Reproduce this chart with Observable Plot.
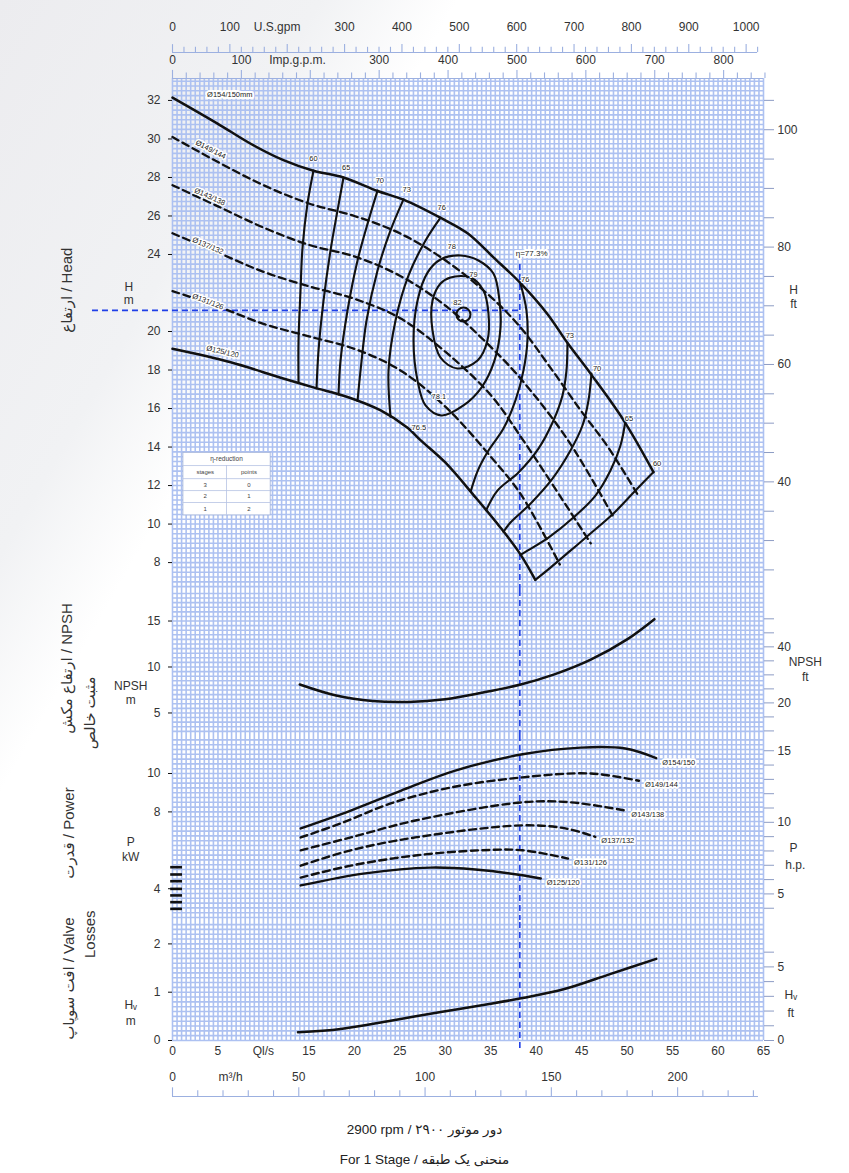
<!DOCTYPE html>
<html>
<head>
<meta charset="utf-8">
<script src="https://cdn.jsdelivr.net/npm/d3@7"></script>
<script src="https://cdn.jsdelivr.net/npm/@observablehq/plot@0.6"></script>
<style>
  html, body { margin: 0; padding: 0; }
  body { width: 849px; height: 1173px; overflow: hidden; position: relative;
         background: linear-gradient(120deg, #ececef 0%, #f1f2f4 21%, #ffffff 30%);
         font-family: "Liberation Sans", Arial, "DejaVu Sans", sans-serif; }
  #chart svg { display: block; overflow: visible; }
  #cap { position: absolute; left: 0; top: 1115px; width: 849px; text-align: center; color: #222; }
  #cap div { height: 30px; line-height: 30px; font-size: 13.5px; }
</style>
</head>
<body>
<div id="chart"></div>
<div id="cap">
  <div dir="rtl">دور موتور ۲۹۰۰ / <bdi dir="ltr">2900 rpm</bdi></div>
  <div dir="rtl">منحنی یک طبقه / <bdi dir="ltr">For 1 Stage</bdi></div>
</div>
<script>
// ---------------- DATA (Q in l/s) ----------------
// Head curves: [Q l/s, H m]
const headD154 = [[0,32.15],[4.95,30.8],[8.6,29.75],[12.2,28.9],[15.5,28.35],[18.8,28.0],[22.55,27.3],[25.4,26.85],[29.5,25.9],[32.45,25.1],[35.3,23.85],[38.3,22.5],[41.25,20.9],[43.45,19.4],[46.0,17.8],[49.6,15.4],[52.9,12.7]];
const headD149 = [[0,30.1],[5,28.8],[10,27.6],[15,26.65],[20,26.0],[25,25.1],[30,23.7],[35,21.8],[38.3,20.2],[41.6,18.1],[44.9,15.9],[47.9,14.0],[51.2,11.5]];
const headD143 = [[0,27.6],[5,26.5],[10,25.4],[15,24.5],[20,23.9],[25,22.9],[30,21.35],[35,19.2],[38.3,17.55],[43.5,14.35],[48.4,10.45]];
const headD137 = [[0,25.1],[5,24.1],[10,23.1],[15,22.35],[20,21.7],[25,20.7],[30,18.95],[35,16.7],[38.5,14.4],[42.7,11.4],[46,9.0]];
const headD131 = [[0,22.1],[5,21.3],[10,20.4],[15,19.75],[20,19.1],[25,18.0],[30,16.1],[35,13.5],[38.3,11.55],[42.6,7.9]];
const headD125 = [[0,19.1],[6.4,18.4],[11.9,17.6],[15.5,17.1],[19.25,16.6],[22.9,15.9],[25.85,15.0],[27.3,14.35],[30,13.2],[33.3,11.4],[36.1,9.8],[38.3,8.4],[39.9,7.1]];

// Iso-efficiency lines: [Q l/s, H m]
const eff60L = [[15.51,28.36],[14.85,26.65],[14.30,24.36],[14.08,22.13],[13.86,19.53],[13.86,17.35]];
const eff65L = [[18.81,28.0],[18.15,26.29],[17.38,24.21],[16.61,21.61],[16.06,19.01],[15.84,17.05]];
const eff70L = [[22.55,27.32],[21.56,25.77],[20.35,23.69],[19.25,21.09],[18.48,18.49],[18.26,16.73]];
const eff73L = [[25.41,26.86],[23.98,25.25],[22.55,23.17],[21.34,20.57],[20.68,17.97],[20.35,16.39]];
const eff76L = [[29.48,25.92],[27.83,24.73],[25.96,22.91],[24.53,20.57],[23.76,17.97],[23.98,15.57]];
const eff78  = [[31.68,23.95],[33.65,23.69],[35.30,23.01],[35.96,21.61],[36.07,20.16],[35.41,18.49],[33.98,17.09],[32.0,16.16],[29.59,15.64],[27.83,16.16],[26.95,17.45],[26.51,19.53],[26.95,21.61],[28.05,23.06],[29.48,23.74]];
const eff79  = [[30.58,22.81],[32.77,22.81],[34.20,22.13],[34.75,20.94],[34.64,19.53],[33.55,18.49],[31.35,18.08],[29.48,18.65],[28.60,20.05],[28.60,21.61],[29.48,22.49]];
const eff82  = [[32.0,20.88]];
const eff76R = [[38.27,22.49],[38.93,21.09],[39.04,19.53],[38.60,17.97],[37.72,16.42],[36.40,14.96],[34.75,13.82],[33.6,12.8],[32.8,11.7]];
const eff73R = [[43.44,19.38],[43.33,17.97],[42.89,16.68],[41.90,15.38],[40.25,13.92],[38.05,12.68],[35.74,11.74],[34.5,10.72]];
const eff70R = [[46.08,17.82],[45.75,16.42],[45.09,15.12],[43.77,13.82],[41.79,12.36],[39.37,11.06],[37.17,10.08],[36.4,9.6]];
const eff65R = [[49.82,15.38],[49.27,14.08],[48.17,12.78],[46.52,11.48],[44.10,10.34],[41.35,9.30],[39.04,8.62],[38.27,8.4]];
const eff60R = [[52.9,12.7],[50.92,11.74],[48.50,10.55],[45.97,9.51],[43.77,8.62],[41.57,7.74],[39.9,7.1]];

// Efficiency labels
const effLabelText = ["60","65","70","73","76","78","79","82","78.1","76.5","76","73","70","65","60"];
const effLabelQ    = [15.5,19.1,22.8,25.75,29.6,30.7,33.1,31.35,29.3,27.1,38.8,43.7,46.7,50.2,53.3];
const effLabelH    = [29.0,28.5,27.85,27.35,26.45,24.4,22.95,21.5,16.6,15.0,22.7,19.8,18.1,15.5,13.15];

// Impeller diameter labels on head chart
const diaLabelText  = ["Ø149/144","Ø143/138","Ø137/132","Ø131/126","Ø125/120"];
const diaLabelQ     = [4.2, 4.1, 3.9, 3.9, 5.5];
const diaLabelH     = [29.45, 27.0, 24.45, 21.55, 18.95];
const diaLabelAngle = [27, 24, 23, 21, 13];

// NPSH curve [Q, m]
const npshCurve = [[14,8.1],[18,6.9],[22,6.3],[26,6.2],[30,6.5],[34,7.2],[38.3,8.1],[42,9.2],[46,10.8],[50,13.0],[53,15.2]];

// Power curves [Q, kW]
const powD154 = [[14.1,7.14],[19.6,8.07],[25.1,9.1],[31.1,10.15],[38.5,11.0],[44.9,11.35],[49.8,11.3],[53.2,10.8]];
const powD149 = [[14.1,6.67],[18.5,7.4],[24,8.44],[30.6,9.27],[38.5,9.8],[46,10.0],[51.3,9.62]];
const powD143 = [[14.1,6.0],[19.6,6.67],[26.7,7.55],[38.5,8.5],[43.8,8.5],[49.8,8.07]];
const powD137 = [[14.1,5.2],[19.6,6.0],[26.7,6.67],[38.5,7.3],[43.2,7.14],[46.5,6.7]];
const powD131 = [[14.1,4.58],[19.6,5.2],[26.7,5.73],[33.9,6.0],[38.5,6.0],[43.5,5.57]];
const powD125 = [[14.1,4.17],[21.2,4.8],[28.4,5.1],[33.3,5.0],[38.5,4.7],[40.5,4.53]];
const powNames = ["Ø154/150","Ø149/144","Ø143/138","Ø137/132","Ø131/126","Ø125/120"];
const powLeftMarks = [5.12, 4.74, 4.39, 3.99, 3.65, 3.30, 2.95];

// Valve losses [Q, m]
const valveCurve = [[13.8,0.17],[18.5,0.24],[24,0.41],[29.5,0.59],[35,0.76],[38.5,0.88],[43.2,1.07],[48.2,1.38],[53.2,1.69]];

// Duty point
const dutyQ = 38.2, dutyH = 21.1;

// Tick labels
const usGpmLabels  = [0,100,300,400,500,600,700,800,900,1000];
const impGpmLabels = [0,100,300,400,500,600,700,800];
const qTicks       = [0,5,10,15,20,25,30,35,40,45,50,55,60,65];
const m3hLabels    = [0,50,100,150,200];
const headTicksM   = [8,10,12,14,16,18,20,24,26,28,30,32];
const headFtLabels = [40,60,80,100];
const npshTicksM   = [5,10,15];
const npshFtLabels = [20,40];
const powTicksKW   = [4,8,10];
const powHpLabels  = [5,10,15];
const valveTicksM  = [0,1,2];
const valveFtLabels= [0,5];

// ---------------- CONSTANTS ----------------
const GPM_US = 15.8503, GPM_IMP = 13.1981, M3H = 3.6, FT = 0.3048, HP = 0.7457;
const W = 849, ML = 172, MR = 86;
const GRID = "#adc1f1", RULER = "#9cb0e0", TXT = "#333", INK = "#111", BLUE = "#1f3fe8", RTICK = "#8d9cc4";
const FONT = "'Liberation Sans', Arial, 'DejaVu Sans', sans-serif";
const STYLE = {fontFamily: FONT, fontSize: "12px", color: TXT, overflow: "visible", background: "transparent"};
const X = {domain: [0, 65], axis: null};
const gridQ = d3.range(0, 131).map(i => i / 2);
const DASH = "7,4.5";

const line = (arr, dashed, extra = {}) => Plot.line(arr, {
  x: d => d[0], y: d => d[1], curve: "catmull-rom", stroke: INK,
  strokeWidth: 2.3, strokeDasharray: dashed ? DASH : null, ...extra
});
const rightAxis = (ft, labels, conv, size = 10) => Plot.axisY(ft.map(f => f * conv), {
  anchor: "right", tickSize: size, tickPadding: 4, stroke: RTICK, fill: TXT,
  tickFormat: v => { const f = Math.round(v / conv); return labels.includes(f) ? String(f) : ""; }
});
const note = (t, q, v, extra = {}) => Plot.text([t], {x: () => q, y: () => v, fill: TXT, fontSize: 12, ...extra});

const chart = document.getElementById("chart");

// ---------------- HEAD PANEL ----------------
const headPanel = Plot.plot({
  width: W, height: 590, marginTop: 78, marginBottom: 0, marginLeft: ML, marginRight: MR,
  x: X, y: {domain: [6.55, 33.14], axis: null}, style: STYLE,
  marks: [
    Plot.ruleX(gridQ, {stroke: GRID, strokeWidth: 1.6}),
    Plot.ruleY(d3.range(27, 133).map(i => i / 4), {stroke: GRID, strokeWidth: 1.6}),
    // top rulers & labels
    Plot.ruleY([34.49], {x1: 0, x2: 1020 / GPM_US, stroke: RULER, strokeWidth: 1.2}),
    Plot.ruleX(d3.range(0, 1021, 20), {x: g => g / GPM_US, y1: 34.49, y2: g => g % 100 === 0 ? 34.9 : 34.76, stroke: RULER, strokeWidth: 1.1}),
    Plot.text(usGpmLabels, {x: g => g / GPM_US, y: 35.79, text: d => String(d), fill: TXT}),
    note("U.S.gpm", 11.5, 35.79),
    Plot.ruleY([33.14], {x1: 0, x2: 65, stroke: RULER, strokeWidth: 1.2}),
    Plot.ruleX(d3.range(0, 861, 20), {x: g => g / GPM_IMP, y1: 33.14, y2: g => g % 100 === 0 ? 33.56 : 33.43, stroke: RULER, strokeWidth: 1.1}),
    Plot.text(impGpmLabels, {x: g => g / GPM_IMP, y: 34.08, text: d => String(d), fill: TXT}),
    note("Imp.g.p.m.", 13.75, 34.08),
    // axes
    Plot.axisY(headTicksM, {anchor: "left", tickSize: 4, tickPadding: 8, stroke: INK, fill: TXT}),
    rightAxis(d3.range(25, 106, 5), headFtLabels, FT),
    note("H", -4.8, 22.3), note("m", -4.8, 21.65),
    note("H", 68.3, 22.15), note("ft", 68.3, 21.4),
    Plot.text(["ارتفاع / Head"], {x: () => -11.6, y: () => 22.15, rotate: -90, fontSize: 15, fill: TXT}),
    // η-reduction table
    Plot.rect([0], {x1: 1.2, x2: 10.8, y1: 10.45, y2: 13.7, fill: "white", stroke: "#9fb0d8", strokeWidth: 0.8}),
    Plot.ruleY([13.04, 12.36, 11.74, 11.12], {x1: 1.2, x2: 10.8, stroke: "#b6c3e3", strokeWidth: 0.8}),
    Plot.ruleX([5.94], {y1: 10.45, y2: 13.04, stroke: "#b6c3e3", strokeWidth: 0.8}),
    Plot.text(["η-reduction"], {x: () => 5.94, y: () => 13.37, fontSize: 6.5, fill: "#444"}),
    Plot.text(["stages", "3", "2", "1"], {x: () => 3.6, y: (d, i) => [12.7, 12.05, 11.43, 10.78][i], fontSize: 6, fill: "#444"}),
    Plot.text(["points", "0", "1", "2"], {x: () => 8.4, y: (d, i) => [12.7, 12.05, 11.43, 10.78][i], fontSize: 6, fill: "#444"}),
    // duty lines
    Plot.ruleY([dutyH], {x1: -8.8, x2: dutyQ, stroke: BLUE, strokeWidth: 1.6, strokeDasharray: "6,4"}),
    Plot.ruleX([dutyQ], {y1: 6.55, y2: 23.8, stroke: BLUE, strokeWidth: 1.6, strokeDasharray: "6,4"}),
    // iso-efficiency
    ...[eff60L, eff65L, eff70L, eff73L, eff76L, eff76R, eff73R, eff70R, eff65R, eff60R].map(a => line(a, false, {strokeWidth: 2.1})),
    line(eff78, false, {strokeWidth: 2.1, curve: "catmull-rom-closed"}),
    line(eff79, false, {strokeWidth: 2.1, curve: "catmull-rom-closed"}),
    Plot.dot(eff82, {x: d => d[0], y: d => d[1], r: 7, stroke: INK, strokeWidth: 2.1, fill: "none"}),
    // head curves
    line(headD154, false, {strokeWidth: 2.5}),
    line(headD149, true), line(headD143, true), line(headD137, true), line(headD131, true),
    line(headD125, false, {strokeWidth: 2.5}),
    // labels
    Plot.text(effLabelText, {x: (d, i) => effLabelQ[i], y: (d, i) => effLabelH[i], fontSize: 7.5, fill: "#222", stroke: "white", strokeWidth: 2}),
    Plot.text(diaLabelText, {x: (d, i) => diaLabelQ[i], y: (d, i) => diaLabelH[i], rotate: (d, i) => diaLabelAngle[i], fontSize: 7.5, fill: "#222", stroke: "white", strokeWidth: 3}),
    Plot.text(["Ø154/150mm"], {x: () => 6.3, y: () => 32.3, fontSize: 7.5, fill: "#222", stroke: "white", strokeWidth: 4}),
    Plot.text(["η=77.3%"], {x: () => 39.5, y: () => 24.05, fontSize: 8, fill: "#222", stroke: "white", strokeWidth: 4})
  ]
});
chart.appendChild(headPanel);

// ---------------- NPSH PANEL ----------------
const npshPanel = Plot.plot({
  width: W, height: 145, marginTop: 0, marginBottom: 0, marginLeft: ML, marginRight: MR,
  x: X, y: {domain: [2.55, 18.32], axis: null}, style: STYLE,
  marks: [
    Plot.ruleX(gridQ, {stroke: GRID, strokeWidth: 1.6}),
    Plot.ruleY(d3.range(6, 37).map(i => i / 2), {stroke: GRID, strokeWidth: 1.6}),
    Plot.axisY(npshTicksM, {anchor: "left", tickSize: 4, tickPadding: 8, stroke: INK, fill: TXT}),
    rightAxis(d3.range(10, 51, 5), npshFtLabels, FT),
    note("NPSH", -4.6, 7.9), note("m", -4.6, 6.35),
    note("NPSH", 69.6, 10.5), note("ft", 69.6, 8.85),
    Plot.text(["ارتفاع مکش / NPSH"], {x: () => -11.6, y: () => 9.85, rotate: -90, fontSize: 15, fill: TXT}),
    Plot.text(["مثبت خالص"], {x: () => -9.1, y: () => 5.0, rotate: -90, fontSize: 15, fill: TXT}),
    Plot.ruleX([dutyQ], {stroke: BLUE, strokeWidth: 1.6, strokeDasharray: "6,4"}),
    line(npshCurve, false, {strokeWidth: 2.5})
  ]
});
chart.appendChild(npshPanel);

// ---------------- POWER PANEL ----------------
const powCurves = [powD154, powD149, powD143, powD137, powD131, powD125];
const powerPanel = Plot.plot({
  width: W, height: 185, marginTop: 0, marginBottom: 0, marginLeft: ML, marginRight: MR,
  x: X, y: {domain: [2.344, 11.979], axis: null}, style: STYLE,
  marks: [
    Plot.ruleX(gridQ, {stroke: GRID, strokeWidth: 1.6}),
    Plot.ruleY(d3.range(10, 48).map(i => i / 4), {stroke: GRID, strokeWidth: 1.6}),
    Plot.axisY(powTicksKW, {anchor: "left", tickSize: 4, tickPadding: 8, stroke: INK, fill: TXT}),
    rightAxis(d3.range(4, 16), powHpLabels, HP),
    note("P", -4.6, 6.42), note("kW", -4.6, 5.64),
    note("P", 68.3, 6.1), note("h.p.", 68.5, 5.22),
    Plot.text(["قدرت / Power"], {x: () => -11.4, y: () => 6.9, rotate: -90, fontSize: 15, fill: TXT}),
    Plot.ruleY(powLeftMarks, {x1: -0.2, x2: 1.1, stroke: INK, strokeWidth: 2.6}),
    Plot.ruleX([dutyQ], {stroke: BLUE, strokeWidth: 1.6, strokeDasharray: "6,4"}),
    ...powCurves.map((c, i) => line(c, i > 0 && i < 5, {strokeWidth: 2.4})),
    Plot.text(powNames, {x: (d, i) => powCurves[i][powCurves[i].length - 1][0], y: (d, i) => powCurves[i][powCurves[i].length - 1][1],
      dx: 6, dy: 4, textAnchor: "start", fontSize: 7.5, fill: "#222", stroke: "white", strokeWidth: 3.5})
  ]
});
chart.appendChild(powerPanel);

// ---------------- VALVE LOSSES PANEL ----------------
const valvePanel = Plot.plot({
  width: W, height: 190, marginTop: 0, marginBottom: 70, marginLeft: ML, marginRight: MR,
  x: X, y: {domain: [0, 2.4845], axis: null}, style: STYLE,
  marks: [
    Plot.ruleX(gridQ, {stroke: GRID, strokeWidth: 1.6}),
    Plot.ruleY(d3.range(0, 25).map(i => i / 10), {stroke: GRID, strokeWidth: 1.6}),
    Plot.axisY(valveTicksM, {anchor: "left", tickSize: 4, tickPadding: 8, stroke: INK, fill: TXT}),
    rightAxis(d3.range(0, 7), valveFtLabels, FT),
    note("Hᵥ", -4.6, 0.73), note("m", -4.6, 0.41),
    note("Hᵥ", 68.0, 0.93), note("ft", 68.0, 0.57),
    Plot.text(["افت سوپاپ / Valve"], {x: () => -11.4, y: () => 1.28, rotate: -90, fontSize: 15, fill: TXT}),
    Plot.text(["Losses"], {x: () => -9.0, y: () => 2.2, rotate: -90, fontSize: 15, fill: TXT}),
    // bottom axes
    Plot.axisX(qTicks, {anchor: "bottom", tickSize: 0, tickPadding: 6, fill: TXT, tickFormat: d => d === 10 ? "Ql/s" : String(d)}),
    Plot.axisX(m3hLabels.map(m => m / M3H), {anchor: "bottom", tickSize: 0, tickPadding: 32, fill: TXT, tickFormat: q => String(Math.round(q * M3H))}),
    Plot.axisX([23 / M3H], {anchor: "bottom", tickSize: 0, tickPadding: 32, fill: TXT, tickFormat: () => "m³/h"}),
    Plot.ruleY([-1.159], {x1: 0, x2: 232 / M3H, stroke: RULER, strokeWidth: 1.2}),
    Plot.ruleX(d3.range(0, 231, 10), {x: m => m / M3H, y1: -1.159, y2: m => m % 50 === 0 ? -0.98 : -1.04, stroke: RULER, strokeWidth: 1.1}),
    Plot.ruleX([dutyQ], {y1: -0.166, y2: 2.4845, stroke: BLUE, strokeWidth: 1.6, strokeDasharray: "6,4"}),
    line(valveCurve, false, {strokeWidth: 2.5})
  ]
});
chart.appendChild(valvePanel);
</script>
</body>
</html>
